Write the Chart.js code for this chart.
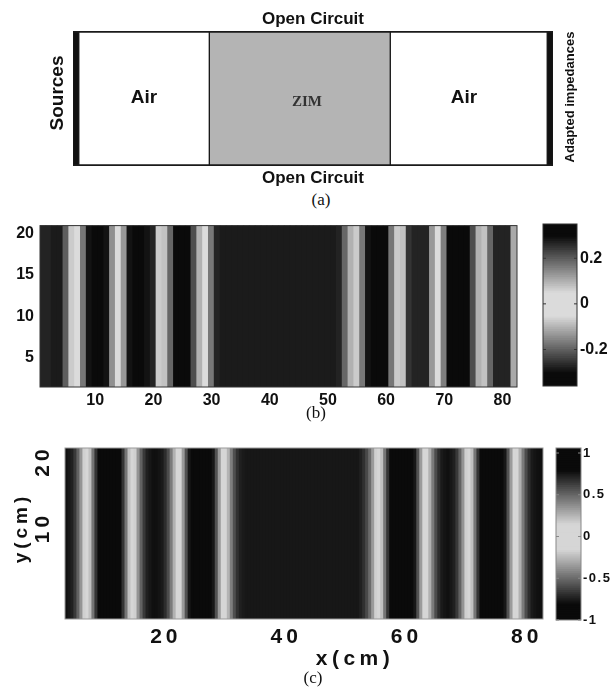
<!DOCTYPE html>
<html>
<head>
<meta charset="utf-8">
<script src="https://cdn.jsdelivr.net/npm/chart.js@4.4.1/dist/chart.umd.min.js"></script>
<style>
  html, body { margin: 0; padding: 0; background: #fff; }
  body { width: 616px; height: 689px; position: relative; overflow: hidden; }
  .box { position: absolute; }
  .cap { position: absolute; font-family: 'Liberation Serif', 'Times New Roman', serif; font-size: 17px; color: #111;
         transform: translate(-50%, -50%); white-space: nowrap; }
</style>
</head>
<body>
<div class="box" style="left:0;top:0;width:616px;height:190px"><canvas id="diagram"></canvas></div>
<div class="cap" style="left:321px;top:200px">(a)</div>
<div class="box" style="left:0;top:210px;width:530px;height:200px"><canvas id="mapB"></canvas></div>
<div class="box" style="left:530px;top:210px;width:86px;height:200px"><canvas id="barB"></canvas></div>
<div class="cap" style="left:316px;top:413px">(b)</div>
<div class="box" style="left:0;top:425px;width:550px;height:264px"><canvas id="mapC"></canvas></div>
<div class="box" style="left:545px;top:425px;width:71px;height:215px"><canvas id="barC"></canvas></div>
<div class="cap" style="left:313px;top:678px">(c)</div>

<script>
const FONT = "'Liberation Sans', Arial, sans-serif";
const SERIF = "'Liberation Serif', 'Times New Roman', serif";

// (a) layout of the guide, arbitrary length units 0..100
const A_NAMES = ['Sources', 'Air', 'ZIM', 'Air', 'Adapted impedances'];
const A_SPANS = [[0, 1.2], [1.2, 28.4], [28.4, 66.1], [66.1, 98.8], [98.8, 100]];
const A_FILLS = ['#111111', '#ffffff', '#b4b4b4', '#ffffff', '#111111'];

// (b) measured field, one value per cell column 1..82 (uniform along y)
const B_FIELD = [
  0.27, 0.27, 0.28, 0.28, 0.20, 0.07, 0.05, -0.17, -0.29, -0.30,
  -0.30, -0.29, -0.14, 0.05, 0.13, 0.29, 0.30, 0.30, 0.29, 0.27,
  0.07, -0.08, -0.19, -0.30, -0.30, -0.30, -0.22, -0.10, 0.05, 0.17,
  0.27, 0.28, 0.28, 0.28, 0.28, 0.28, 0.28, 0.28, 0.28, 0.28,
  0.28, 0.28, 0.28, 0.28, 0.28, 0.28, 0.28, 0.28, 0.28, 0.28,
  0.28, 0.27, 0.19, 0.10, -0.07, -0.17, -0.29, -0.30, -0.30, -0.30,
  -0.17, 0.07, 0.08, 0.25, 0.27, 0.27, 0.27, 0.13, -0.04, -0.16,
  -0.30, -0.30, -0.30, -0.30, -0.22, -0.10, 0.08, 0.19, 0.27, 0.27,
  0.27, 0.11
];
const B_X_RANGE = [0.5, 82.5];
const B_Y_SPAN = [1.4, 21];
const B_X_TICKS = [10, 20, 30, 40, 50, 60, 70, 80];
const B_Y_TICKS = [5, 10, 15, 20];
const B_CB_RANGE = [-0.36, 0.35];
const B_CB_TICKS = [-0.2, 0, 0.2];

// (c) simulated field, x = 3.5 .. 82.5 cm every 0.5 cm (uniform along y)
const C_FIELD = [
  0.78, 0.76, 0.73, 0.65, 0.52, 0.36, 0.17, 0.00,                                  // 3.5
  -0.22, -0.46, -0.67, -0.83, -0.93, -0.98, -1.00, -1.00,                          // 7.5
  -0.98, -0.93, -0.83, -0.67, -0.46, -0.22, 0.00,                                  // 11.5
  0.17, 0.36, 0.52, 0.65, 0.73, 0.76, 0.78, 0.78,                                  // 15
  0.77, 0.75, 0.69, 0.59, 0.44, 0.27, 0.09,                                        // 19
  -0.11, -0.34, -0.57, -0.76, -0.89, -0.96, -0.99, -1.00,                          // 22.5
  -0.99, -0.96, -0.89, -0.76, -0.57, -0.34, -0.11,                                 // 26.5
  0.08, 0.26, 0.43, 0.58, 0.68, 0.73, 0.75, 0.76, 0.76, 0.76,                      // 30
  0.76, 0.76, 0.76, 0.76, 0.76, 0.76, 0.76, 0.76, 0.76, 0.76,                      // 35
  0.76, 0.76, 0.76, 0.76, 0.76, 0.76, 0.76, 0.76, 0.76, 0.76,                      // 40
  0.76, 0.76, 0.76, 0.76, 0.76, 0.76, 0.76, 0.76, 0.76, 0.76,                      // 45
  0.76, 0.76, 0.76, 0.76,                                                          // 50
  0.76, 0.73, 0.68, 0.60, 0.49, 0.34, 0.17, 0.00,                                  // 52
  -0.22, -0.46, -0.67, -0.83, -0.93, -0.98, -1.00, -1.00,                          // 56
  -0.99, -0.96, -0.89, -0.76, -0.57, -0.34, -0.11,                                 // 60
  0.09, 0.27, 0.44, 0.59, 0.69, 0.75, 0.77, 0.78,                                  // 63.5
  0.76, 0.73, 0.65, 0.52, 0.36, 0.17, 0.00,                                        // 67.5
  -0.22, -0.46, -0.67, -0.83, -0.93, -0.98, -1.00, -1.00,                          // 71
  -0.99, -0.96, -0.89, -0.76, -0.57, -0.34, -0.11,                                 // 75
  0.09, 0.27, 0.44, 0.59, 0.69, 0.75, 0.77, 0.78, 0.78                             // 78.5
];
const C_X_RANGE = [3.24, 82.7];
const C_Y_SPAN = [-3.76, 21.96];
const C_X_TICKS = [20, 40, 60, 80];
const C_Y_TICKS = [10, 20];
const C_CB_RANGE = [-1, 1.06];
const C_CB_TICKS = [-1, -0.5, 0, 0.5, 1];

const B_COLS = B_FIELD.map((_, i) => i + 1);
const C_X = C_FIELD.map((_, i) => 3.5 + i * 0.5);

function grey(level) {
  const g = Math.round(255 * Math.max(0, Math.min(1, level)));
  return `rgb(${g},${g},${g})`;
}
const clamp01 = t => Math.max(0, Math.min(1, t));
// grey colour maps: light plateau round zero, black at both ends
const shadeB = v => grey(0.04 + 0.82 * clamp01(1 - (Math.abs(v) - 0.05) / 0.25));
const shadeC = v => grey(0.04 + 0.80 * clamp01(1 - (Math.abs(v) - 0.15) / 0.65));

function levels(range, n) {
  const out = [];
  for (let i = 0; i < n; i++) out.push(range[0] + (range[1] - range[0]) * (i + 0.5) / n);
  return out;
}

// small helper plugins
function frame(color, width, tickLen) {
  return {
    id: 'frame',
    afterDatasetsDraw(chart) {
      const { ctx, chartArea: a } = chart;
      ctx.save();
      ctx.strokeStyle = color;
      ctx.lineWidth = width;
      ctx.strokeRect(a.left, a.top, a.right - a.left, a.bottom - a.top);
      if (tickLen) {
        const s = chart.scales.y;
        s.ticks.forEach(t => {
          const y = s.getPixelForValue(t.value);
          ctx.beginPath();
          ctx.moveTo(a.left, y); ctx.lineTo(a.left + tickLen, y);
          ctx.moveTo(a.right, y); ctx.lineTo(a.right - tickLen, y);
          ctx.stroke();
        });
      }
      ctx.restore();
    }
  };
}

function notes(items) {
  return {
    id: 'notes',
    afterDraw(chart) {
      const ctx = chart.ctx;
      items.forEach(it => {
        ctx.save();
        ctx.font = it.font;
        ctx.fillStyle = it.color || '#111';
        ctx.textAlign = 'center';
        ctx.textBaseline = 'middle';
        ctx.letterSpacing = it.spacing || '0px';
        const x = it.at !== undefined ? chart.scales.x.getPixelForValue(it.at) : it.x;
        ctx.translate(x, it.y);
        if (it.rot) ctx.rotate(it.rot);
        ctx.fillText(it.text, 0, 0);
        ctx.restore();
      });
    }
  };
}

function spacing(px) {
  const set = chart => { chart.ctx.letterSpacing = px; };
  return { id: 'spacing', beforeUpdate: set, beforeLayout: set, beforeDraw: set };
}

const base = {
  animation: false,
  responsive: true,
  maintainAspectRatio: false,
  events: [],
  plugins: { legend: { display: false }, tooltip: { enabled: false } }
};

// (a) schematic
new Chart('diagram', {
  type: 'bar',
  data: {
    labels: ['guide'],
    datasets: A_NAMES.map((name, i) => ({
      label: name,
      data: [A_SPANS[i]],
      backgroundColor: A_FILLS[i],
      borderColor: '#1a1a1a',
      borderWidth: { top: 2, bottom: 2, left: 1, right: 1 },
      borderSkipped: false,
      grouped: false,
      barPercentage: 1,
      categoryPercentage: 1
    }))
  },
  options: {
    ...base,
    indexAxis: 'y',
    layout: { padding: { left: 73, right: 63, top: 31, bottom: 24 } },
    scales: {
      x: { type: 'linear', min: 0, max: 100, display: false },
      y: { display: false }
    }
  },
  plugins: [notes([
    { text: 'Open Circuit', at: 50, y: 19, font: `bold 17px ${FONT}` },
    { text: 'Open Circuit', at: 50, y: 178, font: `bold 17px ${FONT}` },
    { text: 'Sources', x: 58, y: 93, rot: -Math.PI / 2, font: `bold 19px ${FONT}` },
    { text: 'Adapted impedances', x: 570, y: 97, rot: -Math.PI / 2, font: `bold 13px ${FONT}` },
    { text: A_NAMES[1], at: (A_SPANS[1][0] + A_SPANS[1][1]) / 2, y: 98, font: `bold 19px ${FONT}` },
    { text: A_NAMES[2], at: (A_SPANS[2][0] + A_SPANS[2][1]) / 2 + 1.5, y: 102, font: `bold 15px ${SERIF}`, color: '#333' },
    { text: A_NAMES[3], at: (A_SPANS[3][0] + A_SPANS[3][1]) / 2 - 1, y: 98, font: `bold 19px ${FONT}` }
  ])]
});

function heatmap(id, c) {
  return new Chart(id, {
    type: 'bar',
    data: {
      datasets: [{
        data: c.xs.map(x => ({ x, y: c.span })),
        backgroundColor: c.values.map(c.shade),
        borderWidth: 0,
        inflateAmount: 0.7,
        barPercentage: 1,
        categoryPercentage: 1
      }]
    },
    options: {
      ...base,
      layout: { padding: c.padding },
      scales: {
        x: {
          type: 'linear', offset: false, min: c.xRange[0], max: c.xRange[1],
          grid: { display: false, drawTicks: false }, border: { display: false },
          ticks: { autoSkip: false, maxRotation: 0, padding: c.xPad, font: c.tickFont, color: '#111' },
          afterBuildTicks: s => { s.ticks = c.xTicks.map(value => ({ value })); },
          afterFit: s => { s.height = c.xHeight; }
        },
        y: {
          type: 'linear', min: c.span[0], max: c.span[1],
          grid: { display: false, drawTicks: false }, border: { display: false },
          ticks: {
            autoSkip: false, padding: c.yPad, font: c.tickFont, color: '#111',
            minRotation: c.yRot, maxRotation: c.yRot, crossAlign: c.yRot ? 'center' : 'near'
          },
          afterBuildTicks: s => { s.ticks = c.yTicks.map(value => ({ value })); },
          afterFit: s => { s.width = c.yWidth; }
        }
      }
    },
    plugins: c.plugins
  });
}

function colorbar(id, c) {
  const lv = levels(c.range, 90);
  return new Chart(id, {
    type: 'bar',
    data: {
      datasets: [{
        data: lv.map(v => ({ y: v, x: [0, 1] })),
        backgroundColor: lv.map(c.shade),
        borderWidth: 0,
        inflateAmount: 0.7,
        barPercentage: 1,
        categoryPercentage: 1
      }]
    },
    options: {
      ...base,
      indexAxis: 'y',
      layout: { padding: c.padding },
      scales: {
        x: { type: 'linear', min: 0, max: 1, display: false },
        y: {
          type: 'linear', position: 'right', offset: false, min: c.range[0], max: c.range[1],
          grid: { display: false, drawTicks: false }, border: { display: false },
          ticks: { autoSkip: false, padding: c.pad, font: c.font, color: '#111', callback: v => String(v) },
          afterBuildTicks: s => { s.ticks = c.ticks.map(value => ({ value })); },
          afterFit: s => { s.width = c.width; }
        }
      }
    },
    plugins: c.plugins
  });
}

// (b)
heatmap('mapB', {
  xs: B_COLS, values: B_FIELD, shade: shadeB, span: B_Y_SPAN, xRange: B_X_RANGE,
  xTicks: B_X_TICKS, yTicks: B_Y_TICKS,
  padding: { top: 15, right: 13, left: 0, bottom: 0 },
  xHeight: 23, yWidth: 40, xPad: 4, yPad: 6, yRot: 0,
  tickFont: { family: FONT, size: 16, weight: 'bold' },
  plugins: [frame('#333', 1)]
});
colorbar('barB', {
  range: B_CB_RANGE, ticks: B_CB_TICKS, shade: shadeB,
  padding: { top: 14, bottom: 24, left: 13, right: 0 },
  width: 39, pad: 3, font: { family: FONT, size: 16, weight: 'bold' },
  plugins: [frame('#333', 1, 3)]
});

// (c)
heatmap('mapC', {
  xs: C_X, values: C_FIELD, shade: shadeC, span: C_Y_SPAN, xRange: C_X_RANGE,
  xTicks: C_X_TICKS, yTicks: C_Y_TICKS,
  padding: { top: 23, right: 7, left: 0, bottom: 0 },
  xHeight: 70, yWidth: 65, xPad: 6, yPad: 6, yRot: 90,
  tickFont: { family: FONT, size: 21, weight: 'bold' },
  plugins: [spacing('4px'), frame('#999', 1), notes([
    { text: 'x(cm)', x: 355, y: 234, font: `bold 21px ${FONT}`, spacing: '4.5px' },
    { text: 'y(cm)', x: 22, y: 103, rot: -Math.PI / 2, font: `bold 19px ${FONT}`, spacing: '4px' }
  ])]
});
colorbar('barC', {
  range: C_CB_RANGE, ticks: C_CB_TICKS, shade: shadeC,
  padding: { top: 23, bottom: 20, left: 11, right: 0 },
  width: 35, pad: 2, font: { family: FONT, size: 13, weight: 'bold' },
  plugins: [spacing('1.5px'), frame('#888', 1, 3)]
});
</script>
</body>
</html>
